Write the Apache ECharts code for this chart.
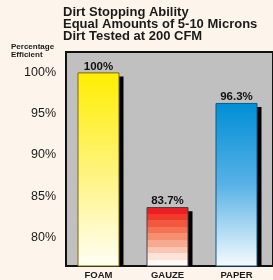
<!DOCTYPE html>
<html>
<head>
<meta charset="utf-8">
<script src="https://cdn.jsdelivr.net/npm/echarts@6/dist/echarts.min.js"></script>
<style>
  html, body { margin: 0; padding: 0; background: #fdf5eb; }
  #chart { width: 273px; height: 280px; }
</style>
</head>
<body>
<div id="chart"></div>
<script>
const categories = ['FOAM', 'GAUZE', 'PAPER']
const efficiency = [100, 83.7, 96.3]
const valueLabels = ['100%', '83.7%', '96.3%']

const fontFamily = "'Liberation Sans', Arial, sans-serif"

// top/bottom colours of each bar's fade
const barColors = [
  { top: '#ffee00', mid: '#fff37a', bottom: '#fffef6', border: '#7a6a00' },
  { top: '#ee1d23', mid: '#f37e60', bottom: '#fffaf6', border: '#444444' },
  { top: '#008ed6', mid: '#58b2e6', bottom: '#f6fbff', border: '#0b5c88' }
]
// the gauze bar fades in visible bands
const gauzeBands = ['#ee1d23', '#f03a2c', '#f2583f', '#f47355', '#f68e70', '#f8aa90', '#fac6b2', '#fde2d6', '#fffaf6']

// drop of the black shadow behind each bar, in axis units (~4px)
const shadowDrop = 0.5

const chart = echarts.init(document.getElementById('chart'))

function bandStops(colors) {
  const stops = []
  const n = colors.length
  colors.forEach((c, k) => {
    stops.push({ offset: k / n, color: c })
    stops.push({ offset: (k + 1) / n, color: c })
  })
  return stops
}

const mainData = efficiency.map((v, i) => {
  const stops = i === 1
    ? bandStops(gauzeBands)
    : [
        { offset: 0, color: barColors[i].top },
        { offset: 0.5, color: barColors[i].mid },
        { offset: 1, color: barColors[i].bottom }
      ]
  return {
    value: v,
    itemStyle: {
      color: new echarts.graphic.LinearGradient(0, 0, 0, 1, stops),
      borderColor: barColors[i].border,
      borderWidth: 1
    },
    label: { formatter: valueLabels[i] }
  }
})

const option = {
  backgroundColor: '#fdf5eb',
  animation: false,
  title: {
    text: 'Dirt Stopping Ability\nEqual Amounts of 5-10 Microns\nDirt Tested at 200 CFM',
    left: 63,
    top: 6,
    padding: 0,
    textStyle: {
      fontFamily: fontFamily,
      fontSize: 13,
      fontWeight: 'bold',
      lineHeight: 12.3,
      color: '#1a1a1a'
    }
  },
  graphic: [{
    type: 'text',
    left: 11,
    top: 43,
    style: {
      text: 'Percentage\nEfficient',
      font: 'bold 8px ' + fontFamily,
      lineHeight: 8,
      fill: '#1a1a1a'
    }
  }],
  grid: {
    left: 66,
    top: 52,
    width: 220,
    bottom: 14,
    show: true,
    backgroundColor: '#c0c0c0',
    borderColor: '#111111',
    borderWidth: 2
  },
  xAxis: {
    type: 'category',
    data: categories,
    axisLine: { show: false },
    axisTick: { show: false },
    axisLabel: {
      margin: 4,
      fontFamily: fontFamily,
      fontSize: 9.5,
      fontWeight: 'bold',
      color: '#1a1a1a',
      padding: [0, 4, 0, 0]
    }
  },
  yAxis: {
    type: 'value',
    min: 76.56,
    max: 102.47,
    splitNumber: 5,
    axisLine: { show: false },
    axisTick: { show: false },
    splitLine: { show: false },
    axisLabel: {
      margin: 10,
      fontFamily: fontFamily,
      fontSize: 12.5,
      color: '#1a1a1a',
      formatter: v => (Math.abs(v % 5) < 1e-6 ? v + '%' : '')
    }
  },
  series: [
    {
      name: 'efficiency',
      type: 'bar',
      barWidth: 42,
      barGap: '-90.5%',
      z: 3,
      label: {
        show: true,
        position: 'top',
        distance: 0,
        fontFamily: fontFamily,
        fontSize: 11.5,
        fontWeight: 'bold',
        color: '#111111'
      },
      data: mainData
    },
    {
      name: 'shadow',
      type: 'bar',
      barWidth: 42,
      z: 2,
      silent: true,
      itemStyle: { color: '#000000' },
      data: efficiency.map(v => v - shadowDrop)
    }
  ]
}

chart.setOption(option)
</script>
</body>
</html>
